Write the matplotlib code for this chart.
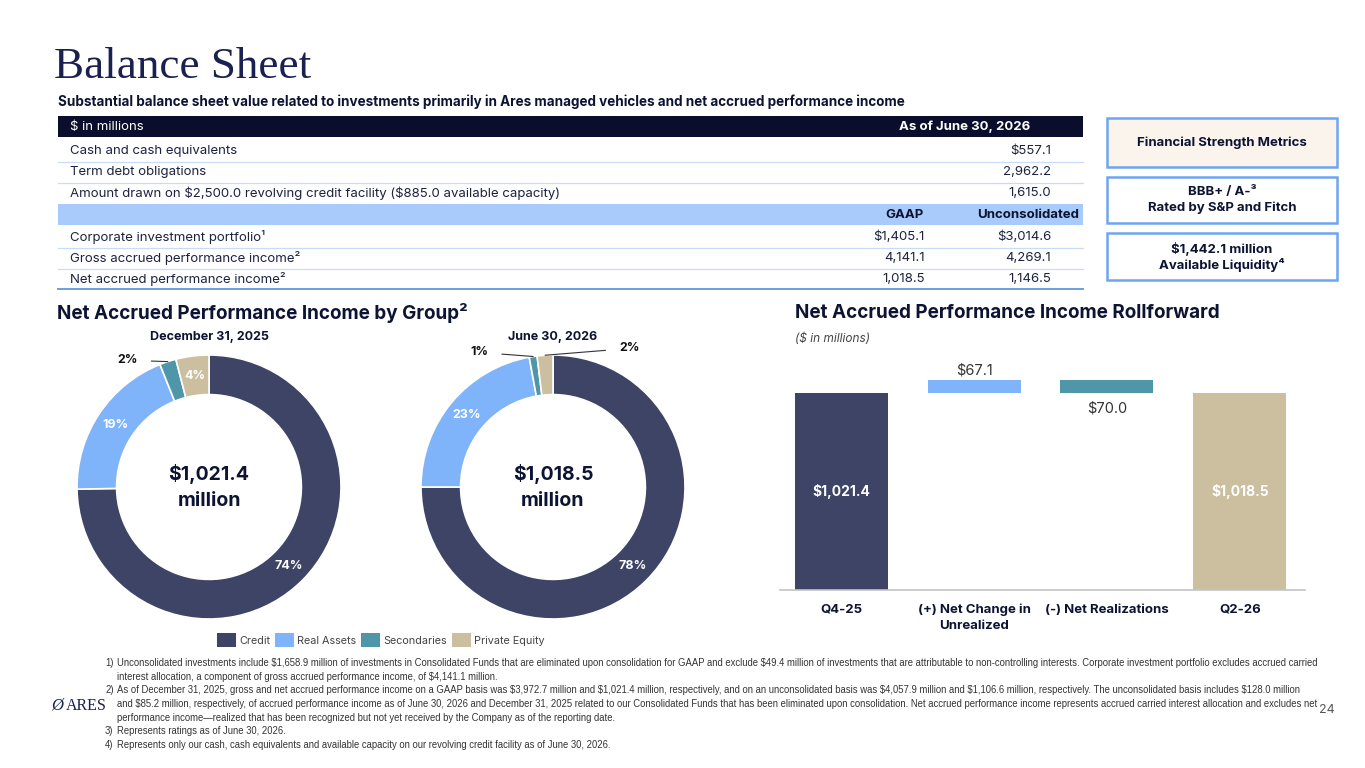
"""
Balance Sheet slide: summary table, net accrued performance income donuts
and rollforward waterfall.
"""

import matplotlib

matplotlib.use("Agg")
import matplotlib.pyplot as plt
from matplotlib.patches import Patch, Rectangle
import numpy as np

plt.rcParams["text.parse_math"] = False
plt.rcParams["font.family"] = ["Inter", "DejaVu Sans"]

W, H = 1365, 768

NAVY = "#0d1333"
HEADER = "#0a0e2c"
LIGHT_BLUE_BAR = "#a9cbfb"
SEP = "#c9dcf5"
BOX_EDGE = "#6fa5f0"
SERIF = ["Liberation Serif", "DejaVu Serif"]

# --- table data ---
top_rows = [
    "Cash and cash equivalents",
    "Term debt obligations",
    "Amount drawn on $2,500.0 revolving credit facility ($885.0 available capacity)",
]
top_values = ["$557.1", "2,962.2", "1,615.0"]
bottom_rows = [
    "Corporate investment portfolio¹",
    "Gross accrued performance income²",
    "Net accrued performance income²",
]
gaap_values = ["$1,405.1", "4,141.1", "1,018.5"]
uncons_values = ["$3,014.6", "4,269.1", "1,146.5"]

# --- donut data ---
groups = ["Credit", "Real Assets", "Secondaries", "Private Equity"]
group_colors = ["#3d4466", "#80b4fa", "#4f97a8", "#cbbfa0"]
dec_2025 = [74, 19, 2, 4]
jun_2026 = [78, 23, 1, 2]
dec_total = "$1,021.4\nmillion"
jun_total = "$1,018.5\nmillion"

# --- rollforward data ---
roll_labels = ["Q4-25", "(+) Net Change in\nUnrealized", "(-) Net Realizations", "Q2-26"]
start_value = 1021.4
net_change = 67.1
net_realizations = 70.0
end_value = 1018.5

footnotes = [
    ("1)", "Unconsolidated investments include $1,658.9 million of investments in Consolidated Funds that are eliminated upon consolidation for GAAP and exclude $49.4 million of investments that are attributable to non-controlling interests. Corporate investment portfolio excludes accrued carried"),
    ("", "interest allocation, a component of gross accrued performance income, of $4,141.1 million."),
    ("2)", "As of December 31, 2025, gross and net accrued performance income on a GAAP basis was $3,972.7 million and $1,021.4 million, respectively, and on an unconsolidated basis was $4,057.9 million and $1,106.6 million, respectively. The unconsolidated basis includes $128.0 million"),
    ("", "and $85.2 million, respectively, of accrued performance income as of June 30, 2026 and December 31, 2025 related to our Consolidated Funds that has been eliminated upon consolidation. Net accrued performance income represents accrued carried interest allocation and excludes net"),
    ("", "performance income\u2014realized that has been recognized but not yet received by the Company as of the reporting date."),
    ("3)", "Represents ratings as of June 30, 2026."),
    ("4)", "Represents only our cash, cash equivalents and available capacity on our revolving credit facility as of June 30, 2026."),
]


def fig_rect(left, top, right, bottom):
    """Pixel box -> figure fraction [l, b, w, h]."""
    return [left / W, 1 - bottom / H, (right - left) / W, (bottom - top) / H]


fig = plt.figure(figsize=(W / 100, H / 100), dpi=100)
fig.patch.set_facecolor("white")

# full-page canvas in pixel coordinates
bg = fig.add_axes([0, 0, 1, 1])
bg.set_xlim(0, W)
bg.set_ylim(H, 0)
bg.axis("off")

bg.text(54, 67, "Balance Sheet", family=SERIF, fontsize=32.5, color="#1a2150",
        va="center", ha="left")
bg.text(58, 102, "Substantial balance sheet value related to investments primarily in Ares managed vehicles and net accrued performance income",
        fontsize=9.7, fontweight="bold", color=NAVY, va="center")

# --- table ---
tl, tr = 58, 1083
bg.add_patch(Rectangle((tl, 116), tr - tl, 21, color=HEADER, lw=0))
bg.text(70, 127, "$ in millions", fontsize=9.5, color="white", va="center")
bg.text(1030, 127, "As of June 30, 2026", fontsize=9.5, color="white",
        fontweight="bold", va="center", ha="right")

row_h = 21
for i, (label, val) in enumerate(zip(top_rows, top_values)):
    y = 151 + i * row_h
    bg.text(70, y, label, fontsize=9.5, color="#1c2240", va="center")
    bg.text(1051, y, val, fontsize=9.5, color="#1c2240", va="center", ha="right")
    if i < len(top_rows) - 1:
        bg.plot([tl, tr], [y + 10.5, y + 10.5], color=SEP, lw=0.9)

bg.add_patch(Rectangle((tl, 204), tr - tl, 21, color=LIGHT_BLUE_BAR, lw=0))
bg.text(924, 215, "GAAP", fontsize=9.5, fontweight="bold", color=NAVY, va="center", ha="right")
bg.text(1079, 215, "Unconsolidated", fontsize=9.5, fontweight="bold", color=NAVY,
        va="center", ha="right")

for i, (label, g, u) in enumerate(zip(bottom_rows, gaap_values, uncons_values)):
    y = 237 + i * row_h
    bg.text(70, y, label, fontsize=9.5, color="#1c2240", va="center")
    bg.text(925, y, g, fontsize=9.5, color="#1c2240", va="center", ha="right")
    bg.text(1051, y, u, fontsize=9.5, color="#1c2240", va="center", ha="right")
    if i < len(bottom_rows) - 1:
        bg.plot([tl, tr], [y + 10.5, y + 10.5], color=SEP, lw=0.9)
bg.plot([tl, tr], [289, 289], color="#6a9fe0", lw=1.4)

# --- financial strength boxes ---
boxes = [
    (118, 167, "#faf4ec", ["Financial Strength Metrics"]),
    (177, 223, "white", ["BBB+ / A-³", "Rated by S&P and Fitch"]),
    (233, 280, "white", ["$1,442.1 million", "Available Liquidity⁴"]),
]
for top, bottom, face, lines in boxes:
    bg.add_patch(Rectangle((1107, top), 230, bottom - top, facecolor=face,
                           edgecolor=BOX_EDGE, lw=1.8))
    cy = (top + bottom) / 2
    offs = [0] if len(lines) == 1 else [-8, 8]
    for txt, dy in zip(lines, offs):
        bg.text(1222, cy + dy, txt, fontsize=9.5, fontweight="bold", color=NAVY,
                ha="center", va="center")

# --- section headings ---
bg.text(57, 313, "Net Accrued Performance Income by Group²", fontsize=13.6,
        fontweight="bold", color=NAVY, va="center")
bg.text(795, 313, "Net Accrued Performance Income Rollforward", fontsize=13.6,
        fontweight="bold", color=NAVY, va="center")
bg.text(795, 339, "($ in millions)", fontsize=8.5, style="italic", color="#444444", va="center")


def donut(cx, cy, values, title, total, outside):
    """Draw one donut centred on pixel (cx, cy) with outer radius 132 px."""
    half = 165
    ax = fig.add_axes(fig_rect(cx - half, cy - half, cx + half, cy + half))
    ax.patch.set_visible(False)
    wedges, _ = ax.pie(values, colors=group_colors, startangle=90, counterclock=False,
                       radius=1.0, wedgeprops=dict(width=0.3, edgecolor="white", linewidth=1.2))
    ax.set_xlim(-1.25, 1.25)
    ax.set_ylim(-1.25, 1.25)
    ax.set_aspect("equal")
    ax.text(0, 1.14, title, ha="center", va="center", fontsize=9, fontweight="bold", color=NAVY)
    ax.text(0, 0, total, ha="center", va="center", fontsize=14, fontweight="bold",
            color=NAVY, linespacing=1.6)
    for w, v in zip(wedges, values):
        mid = np.deg2rad((w.theta1 + w.theta2) / 2)
        label = f"{v}%"
        if v in outside:
            tx, ty = outside[v]
            ax.annotate(label, xy=(np.cos(mid), np.sin(mid)), xytext=(tx, ty),
                        fontsize=9, fontweight="bold", color="#111111",
                        ha="center", va="center",
                        arrowprops=dict(arrowstyle="-", color="#333333", lw=0.8,
                                        shrinkA=8, shrinkB=0))
        else:
            ax.text(0.85 * np.cos(mid), 0.85 * np.sin(mid), label, ha="center",
                    va="center", fontsize=9, fontweight="bold", color="white")


donut(209, 487, dec_2025, "December 31, 2025", dec_total, {2: (-0.62, 0.96)})
donut(553, 487, jun_2026, "June 30, 2026", jun_total, {1: (-0.56, 1.02), 2: (0.58, 1.05)})

handles = [Patch(facecolor=c, edgecolor="none") for c in group_colors]
fig.legend(handles, groups, loc="center", bbox_to_anchor=(381 / W, 1 - 640 / H), ncol=4,
           frameon=False, fontsize=7.8, handlelength=1.7, handleheight=1.7,
           handletextpad=0.35, columnspacing=0.45, labelcolor="#444444")

# --- rollforward waterfall ---
wax = fig.add_axes(fig_rect(780, 339, 1305, 590))
wax.patch.set_visible(False)
x = np.arange(len(roll_labels))
after_change = start_value + net_change
bottoms = [0, start_value, after_change - net_realizations, 0]
heights = [start_value, net_change, net_realizations, end_value]
bar_colors = ["#3d4466", "#80b4fa", "#4f97a8", "#cbbfa0"]
wax.bar(x, heights, bottom=bottoms, width=0.7, color=bar_colors, zorder=2)
wax.set_xlim(-0.46, 3.49)
wax.set_ylim(0, 1300)
wax.set_yticks([])
for s in ["top", "right", "left"]:
    wax.spines[s].set_visible(False)
wax.spines["bottom"].set_color("#c4c4c4")
wax.spines["bottom"].set_linewidth(1.2)
wax.set_xticks(x)
wax.set_xticklabels(roll_labels, fontsize=9.5, fontweight="bold", color=NAVY, linespacing=1.4)
wax.tick_params(axis="x", length=0, pad=10)

wax.text(x[0], start_value / 2, f"${start_value:,.1f}", ha="center", va="center",
         fontsize=10, fontweight="bold", color="white")
wax.text(x[3], end_value / 2, f"${end_value:,.1f}", ha="center", va="center",
         fontsize=10, fontweight="bold", color="white")
wax.annotate(f"${net_change:,.1f}", xy=(x[1], after_change), xytext=(0, 1.5),
             textcoords="offset points", ha="center", va="bottom", fontsize=10.5, color="#333333")
wax.annotate(f"${net_realizations:,.1f}", xy=(x[2], after_change - net_realizations),
             xytext=(0, -6), textcoords="offset points", ha="center", va="top",
             fontsize=10.5, color="#333333")

# --- footnotes, logo, page number ---
for i, (num, line) in enumerate(footnotes):
    y = 663 + i * 13.7
    if num:
        bg.text(105, y, num, fontsize=6.85, family=["Liberation Sans", "DejaVu Sans"],
                color="#333333", va="center")
    bg.text(117, y, line, fontsize=6.85, family=["Liberation Sans", "DejaVu Sans"],
            color="#333333", va="center")

bg.text(51, 706, "\u00d8", family=SERIF, fontsize=12, style="italic", color="#1a2150", va="center")
bg.text(66, 706, "ARES", family=SERIF, fontsize=11.5, color="#1a2150", va="center")
bg.text(1327, 710, "24", fontsize=9, color="#555555", va="center", ha="center")

fig.savefig("out.png", dpi=100)
print("Wrote out.png")
